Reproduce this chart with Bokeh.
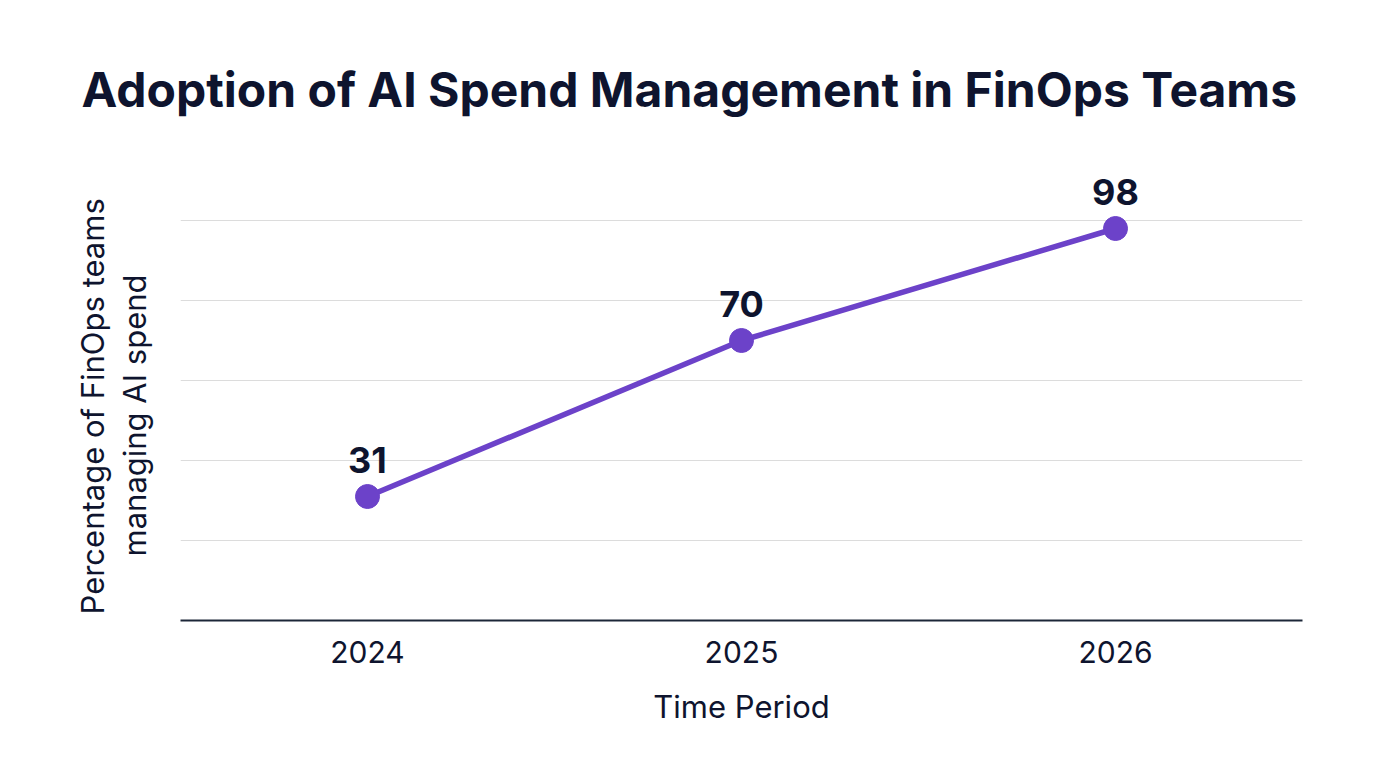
from bokeh.plotting import figure
from bokeh.models import ColumnDataSource, FactorRange, Range1d, Title
from bokeh.core.properties import value
from bokeh.embed import file_html
from bokeh.resources import INLINE

# Adoption data
periods = ["2024", "2025", "2026"]
adoption_pct = [31, 70, 98]
grid_ticks = [0, 20, 40, 60, 80, 100]

FONT = "Inter"
INK = "#0e142e"
PURPLE = "#6c42c9"

source = ColumnDataSource(dict(
    period=periods,
    pct=adoption_pct,
    label=[str(v) for v in adoption_pct],
))

p = figure(
    width=1376, height=768,
    x_range=FactorRange(*periods, range_padding=0.0),
    y_range=Range1d(0, 115),
    output_backend="svg", toolbar_location=None,
    min_border_left=180, min_border_right=74,
    min_border_top=160, min_border_bottom=148,
)
p.title = None
p.outline_line_color = None
p.background_fill_color = "white"
p.border_fill_color = "white"

# chart heading
p.add_layout(Title(text="Adoption of AI Spend Management in FinOps Teams",
                   text_font=FONT, text_font_size="48px", text_font_style="bold",
                   text_color=INK, align="left", offset=-99, standoff=83),
             "above")

# x axis
p.xaxis.axis_line_color = "#1c2638"
p.xaxis.axis_line_width = 2
p.xaxis.major_tick_line_color = None
p.xaxis.minor_tick_line_color = None
p.xaxis.major_label_text_font = FONT
p.xaxis.major_label_text_font_size = "30px"
p.xaxis.major_label_text_color = INK
p.xaxis.major_label_standoff = 14
p.xaxis.axis_label = "Time Period"
p.xaxis.axis_label_text_font = FONT
p.xaxis.axis_label_text_font_size = "31px"
p.xaxis.axis_label_text_font_style = "normal"
p.xaxis.axis_label_text_color = INK
p.xaxis.axis_label_standoff = 22

# y axis: grid only; undrawn ticks keep a gap before the title lines
p.yaxis.ticker = grid_ticks
p.yaxis.axis_line_color = None
p.yaxis.major_tick_line_color = None
p.yaxis.minor_tick_line_color = None
p.yaxis.major_tick_out = 27
p.yaxis.major_tick_in = 0
p.yaxis.major_label_text_font_size = "0px"
p.yaxis.major_label_text_color = None
p.yaxis.major_label_standoff = 0

# y axis title, two lines, each placed from the bottom of the frame
p.add_layout(Title(text="managing AI spend", text_font=FONT,
                   text_font_size="31px", text_font_style="normal",
                   text_color=INK, align="left", offset=64, standoff=2),
             "left")
p.add_layout(Title(text="Percentage of FinOps teams", text_font=FONT,
                   text_font_size="31px", text_font_style="normal",
                   text_color=INK, align="left", offset=6, standoff=4),
             "left")

p.xgrid.grid_line_color = None
p.ygrid.ticker = grid_ticks
p.ygrid.grid_line_color = "#dcdcdc"
p.ygrid.grid_line_width = 1

p.line("period", "pct", source=source, line_color=PURPLE, line_width=5.5)
p.scatter("period", "pct", source=source, size=24, fill_color=PURPLE,
          line_color=PURPLE)
p.text("period", "pct", text="label", source=source,
       text_font=value(FONT), text_font_size="36px", text_font_style="bold",
       text_color=INK, text_align="center", text_baseline="middle",
       y_offset=-37)

open("out.html", "w").write(file_html(p, INLINE))
